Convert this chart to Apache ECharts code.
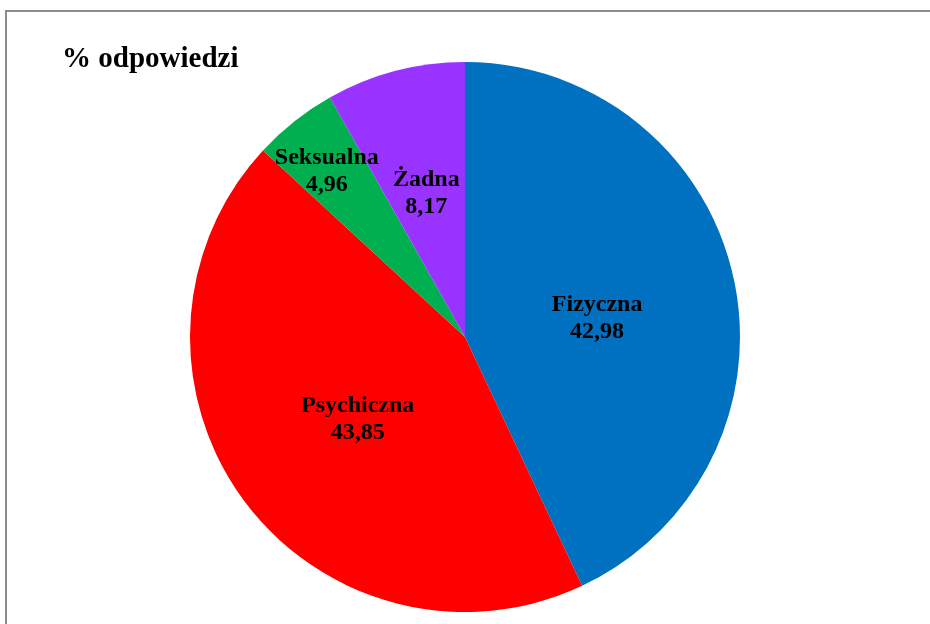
<!DOCTYPE html>
<html>
<head>
<meta charset="utf-8">
<script src="https://cdn.jsdelivr.net/npm/echarts@6/dist/echarts.min.js"></script>
<style>
    html, body { margin: 0; padding: 0; background: #fff; }
    .frame {
        position: absolute;
        left: 5px;
        top: 10px;
        width: 940px;
        height: 630px;
        border: 2px solid #8c8c8c;
        box-sizing: border-box;
    }
    #chart { position: absolute; left: 0; top: 0; width: 930px; height: 624px; }
</style>
</head>
<body>
<div class="frame"></div>
<div id="chart"></div>
<script>
const categories = ['Fizyczna', 'Psychiczna', 'Seksualna', 'Żadna']
const values = [42.98, 43.85, 4.96, 8.17]
const colors = ['#0070C0', '#FF0000', '#00B050', '#9933FF']
const labelOffsets = [[-5, 12], [6, -1], [-51, -56], [-3, -8]]

const chart = echarts.init(document.getElementById('chart'))

const fmt = (v) => v.toFixed(2).replace('.', ',')

chart.setOption({
    animation: false,
    title: {
        text: '% odpowiedzi',
        left: 57,
        top: 40,
        textStyle: {
            fontFamily: 'Liberation Serif',
            fontWeight: 'bold',
            fontSize: 29,
            color: '#000',
        },
    },
    series: [
        {
            type: 'pie',
            center: [465, 337],
            radius: 275,
            startAngle: 90,
            clockwise: true,
            label: {
                position: 'inner',
                fontFamily: 'Liberation Serif',
                fontWeight: 'bold',
                fontSize: 24,
                lineHeight: 27,
                color: '#000',
                formatter: (p) => `${p.name}\n${fmt(p.value)}`,
            },
            labelLine: { show: false },
            emphasis: { disabled: true },
            data: categories.map((name, i) => ({
                name,
                value: values[i],
                itemStyle: { color: colors[i] },
                label: { offset: labelOffsets[i] },
            })),
        },
    ],
})
</script>
</body>
</html>
